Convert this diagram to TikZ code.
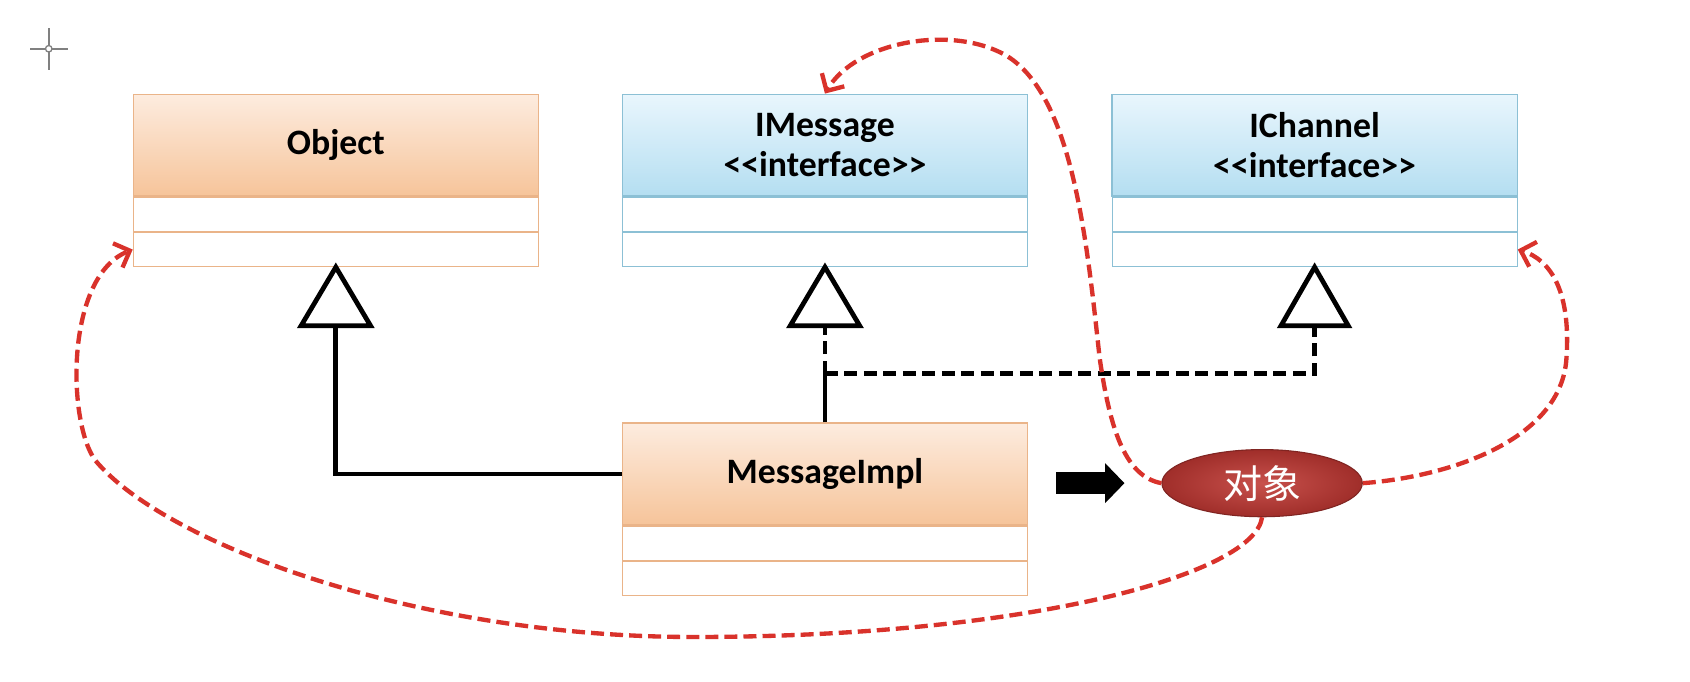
\documentclass[tikz,border=0pt]{standalone}
\usepackage{fontspec}
\setmainfont{Carlito}[Ligatures=TeXOff]
\newfontfamily\cjkfont{Noto Sans CJK SC}
\usetikzlibrary{positioning,arrows.meta,shapes.geometric}

\definecolor{clsTop}{HTML}{FDECDF}
\definecolor{clsBot}{HTML}{F6C49A}
\definecolor{clsLine}{HTML}{EAB489}
\definecolor{ifTop}{HTML}{E9F6FD}
\definecolor{ifBot}{HTML}{B4DEF1}
\definecolor{ifLine}{HTML}{8CC0D5}
\definecolor{objRed}{HTML}{A02E2A}
\definecolor{objRedIn}{HTML}{C8514C}
\definecolor{refRed}{HTML}{D9322B}

\begin{document}
\begin{tikzpicture}[x=0.5pt,y=-0.5pt,
  cls/.style={draw=clsLine, line width=0.6pt, top color=clsTop, bottom color=clsBot,
    minimum width=187pt, minimum height=47pt, inner sep=0pt, align=center,
    font=\fontsize{16.5}{18.5}\selectfont\bfseries},
  iface/.style={cls, draw=ifLine, top color=ifTop, bottom color=ifBot},
  comp/.style={draw=clsLine, line width=0.5pt, fill=white,
    minimum width=187pt, minimum height=15.75pt, inner sep=0pt},
  ifcomp/.style={comp, draw=ifLine},
  tri/.style={draw=black, fill=white, line width=2.2pt, line join=miter},
  solidline/.style={draw=black, line width=2.2pt},
  dashline/.style={draw=black, line width=2.2pt, dash pattern=on 6pt off 3pt},
  refline/.style={draw=refRed, line width=2pt, dash pattern=on 6pt off 2.8pt,
    -{Straight Barb[length=6pt,width=12pt,line width=2pt]}},
  bigarrow/.style={draw=black, line width=10pt, -{Triangle[length=9pt,width=18pt]}}]
\fill[white] (0,0) rectangle (1560,629.5);
\useasboundingbox (0,0) rectangle (1560,629.5);
% cursor mark
\draw[gray, line width=0.7pt] (28,45) -- (63,45) (45,26) -- (45,65);
\draw[gray, fill=white, line width=0.6pt] (45,45) circle (3);
% classes
\node[cls] (objT) at (310,134) {Object};
\node[comp] (objC1) [below=0pt of objT] {};
\node[comp] (objC2) [below=0pt of objC1] {};
\node[iface] (msgT) at (761.5,134) {IMessage\\<<interface>>};
\node[ifcomp] (msgC1) [below=0pt of msgT] {};
\node[ifcomp] (msgC2) [below=0pt of msgC1] {};
\node[iface] (chT) at (1213.5,134) {IChannel\\<<interface>>};
\node[ifcomp] (chC1) [below=0pt of chT] {};
\node[ifcomp] (chC2) [below=0pt of chC1] {};
\node[cls] (implT) at (761.5,437.5) {MessageImpl};
\node[comp] (implC1) [below=0pt of implT] {};
\node[comp] (implC2) [below=0pt of implC1] {};
% instance
\node[ellipse, draw=objRed!80!black, line width=0.5pt, inner color=objRedIn, outer color=objRed,
  minimum width=92.5pt, minimum height=31pt, inner sep=0pt, text=white,
  font=\fontsize{18}{20}\selectfont\cjkfont] (inst) at (1165,446) {对象};
% triangles
\coordinate (objBase) at ([yshift=-27pt]objC2.south);
\coordinate (msgBase) at ([yshift=-27pt]msgC2.south);
\coordinate (chBase) at ([yshift=-27pt]chC2.south);
\coordinate (junc) at ([yshift=22.5pt]implT.north);
\draw[solidline] (objBase) |- (implT.west);
\draw[solidline] (implT.north) -- (junc);
\draw[dashline] (junc) -- (msgBase);
\draw[dashline] (junc) -| (chBase);
\draw[tri] (objC2.south) -- ([xshift=-16pt]objBase) -- ([xshift=16pt]objBase) -- cycle;
\draw[tri] (msgC2.south) -- ([xshift=-16pt]msgBase) -- ([xshift=16pt]msgBase) -- cycle;
\draw[tri] (chC2.south) -- ([xshift=-15.5pt]chBase) -- ([xshift=15.5pt]chBase) -- cycle;
% create arrow
\coordinate (arrS) at (implT.east |- inst.west);
\draw[bigarrow] ([xshift=13pt]arrS) -- ([xshift=-17pt]inst.west);
% references
\draw[refline] (inst.west) .. controls (1040,440) and (1025,400) .. (1015,330)
  .. controls (1003,220) and (990,90) .. (930,52) .. controls (880,22) and (790,38) .. (msgT.north);
\draw[refline] (inst.east) .. controls (1340,440) and (1442,405) .. (1446,330)
  .. controls (1450,270) and (1432,240) .. (chC2.east);
\draw[refline] (inst.south) .. controls (1158,530) and (950,588) .. (640,588)
  .. controls (380,588) and (150,500) .. (88,425) .. controls (62,390) and (60,255) .. (objC2.west);
\end{tikzpicture}
\end{document}
